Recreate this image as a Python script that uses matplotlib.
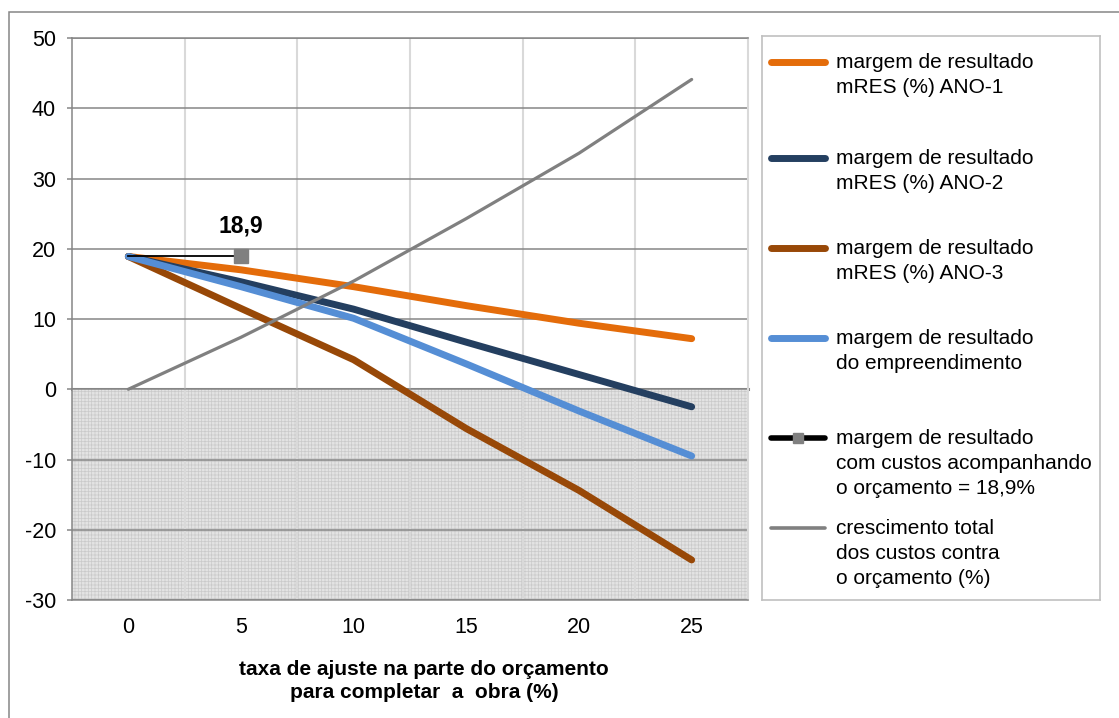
import matplotlib
matplotlib.use("Agg")
import matplotlib.pyplot as plt
from matplotlib.patches import Rectangle

plt.rcParams['font.family'] = ['Liberation Sans', 'DejaVu Sans']
plt.rcParams['axes.unicode_minus'] = False
plt.rcParams['hatch.linewidth'] = 0.5

# ---------------- data ----------------
x_vals = [0, 5, 10, 15, 20, 25]
x_labels = ['0', '5', '10', '15', '20', '25']
ano1 = [18.9, 17.0, 14.6, 11.9, 9.4, 7.2]
ano2 = [18.9, 15.3, 11.4, 6.7, 2.1, -2.5]
ano3 = [18.9, 11.5, 4.2, -5.6, -14.4, -24.3]
empreend = [18.9, 14.6, 10.1, 3.6, -3.1, -9.5]
orc_x = [0, 5]
orc_vals = [18.9, 18.9]
crescimento = [0, 7.4, 15.4, 24.3, 33.6, 44.1]
y_ticks = [-30, -20, -10, 0, 10, 20, 30, 40, 50]
orc_label = '18,9'

labels = [
    'margem de resultado\nmRES (%) ANO-1',
    'margem de resultado\nmRES (%) ANO-2',
    'margem de resultado\nmRES (%) ANO-3',
    'margem de resultado\ndo empreendimento',
    'margem de resultado\ncom custos acompanhando\no orçamento = 18,9%',
    'crescimento total\ndos custos contra\no orçamento (%)',
]
xlabel = 'taxa de ajuste na parte do orçamento\npara completar  a  obra (%)'

# ---------------- styles ----------------
C_ORANGE = '#E46C0A'
C_NAVY = '#243F60'
C_BROWN = '#984807'
C_BLUE = '#558ED5'
C_GREY = '#808080'
C_DARK = '#868686'
C_LIGHT = '#D9D9D9'

W, H = 1119, 718
fig = plt.figure(figsize=(W / 100, H / 100), dpi=100)
fig.patch.set_facecolor('white')

# outer frame (partially cropped in the reference)
fig.add_artist(Rectangle((9 / W, -0.1), 1.2, 1 - 12 / H + 0.1, transform=fig.transFigure,
                         fill=False, edgecolor=C_DARK, linewidth=1.1))

ax = fig.add_axes([72 / W, 1 - 600 / H, (748 - 72) / W, (600 - 38) / H])
ax.set_xlim(-2.5, 27.5)
ax.set_ylim(-30, 50)
ax.set_axisbelow(True)

# negative region, shaded with a fine grid
ax.axhspan(-30, 0, facecolor='#E3E3E3', edgecolor='#CACACA', hatch='+++++',
           linewidth=0, zorder=0.3)

boundaries = [2.5, 7.5, 12.5, 17.5, 22.5]
ax.set_xticks(x_vals, x_labels)
ax.set_xticks(boundaries, minor=True)
ax.set_yticks(y_ticks)
ax.tick_params(axis='x', which='both', length=0, labelsize=15.5, pad=12)
ax.tick_params(axis='y', length=3.6, width=1.1, color=C_DARK, labelsize=15.5, pad=8)
ax.grid(axis='y', which='major', color=C_DARK, linewidth=1.1)
ax.grid(axis='x', which='minor', color=C_LIGHT, linewidth=1.5)
for s in ['left', 'bottom', 'top']:
    ax.spines[s].set_color(C_DARK)
    ax.spines[s].set_linewidth(1.1)
ax.spines['right'].set_color(C_LIGHT)
ax.spines['right'].set_linewidth(1.5)

# horizontal axis crossing at zero, with tick marks at category boundaries
zero_frac = (0 - (-30)) / (50 - (-30))
sec = ax.secondary_xaxis(zero_frac)
sec.set_xticks(boundaries, [''] * len(boundaries))
sec.tick_params(axis='x', length=3.6, width=1.1, color=C_DARK, direction='out')
for s in sec.spines.values():
    s.set_color(C_DARK)
    s.set_linewidth(2.2)

lw = 5
ax.plot(x_vals, ano1, color=C_ORANGE, lw=lw, solid_capstyle='round', zorder=2)
ax.plot(x_vals, ano2, color=C_NAVY, lw=lw, solid_capstyle='round', zorder=2)
ax.plot(x_vals, ano3, color=C_BROWN, lw=lw, solid_capstyle='round', zorder=2)
ax.plot(x_vals, empreend, color=C_BLUE, lw=lw, solid_capstyle='round', zorder=2)
ax.plot(orc_x, orc_vals, color='black', lw=1.3, marker='s', markevery=[1],
        markersize=10, markerfacecolor=C_GREY, markeredgecolor=C_GREY, zorder=3)
ax.plot(x_vals, crescimento, color=C_GREY, lw=2.3, solid_capstyle='round', zorder=3)

ax.annotate(orc_label, xy=(orc_x[-1], orc_vals[-1]), xytext=(0, 22), textcoords='offset points',
            ha='center', va='center', fontsize=16.5, fontweight='bold')

# x axis title
fig.text(424 / W, 1 - 681 / H, xlabel, ha='center', va='center', fontsize=15,
         fontweight='bold', linespacing=1.3)

# ---------------- legend (manual, handles aligned with first text line) ----------------
lax = fig.add_axes([762 / W, 1 - 600 / H, (1100 - 762) / W, (600 - 36) / H])
lax.set_xlim(762, 1100)
lax.set_ylim(600, 36)
lax.set_xticks([])
lax.set_yticks([])
for s in lax.spines.values():
    s.set_color('#C0C0C0')
    s.set_linewidth(1.2)

entry_y = [62, 158, 248, 338, 438, 528]
styles = [
    dict(color=C_ORANGE, lw=5),
    dict(color=C_NAVY, lw=5),
    dict(color=C_BROWN, lw=5),
    dict(color=C_BLUE, lw=5),
    dict(color='black', lw=4),
    dict(color=C_GREY, lw=2.6),
]
for i, (yy, lab, st) in enumerate(zip(entry_y, labels, styles)):
    lax.plot([771, 825], [yy, yy], solid_capstyle='round', **st)
    if i == 4:
        lax.plot([798], [yy], marker='s', markersize=7, color=C_GREY, lw=0)
    lax.text(836, yy - 9, lab, ha='left', va='top', fontsize=15, linespacing=1.4)

fig.savefig('out.png', dpi=100)
